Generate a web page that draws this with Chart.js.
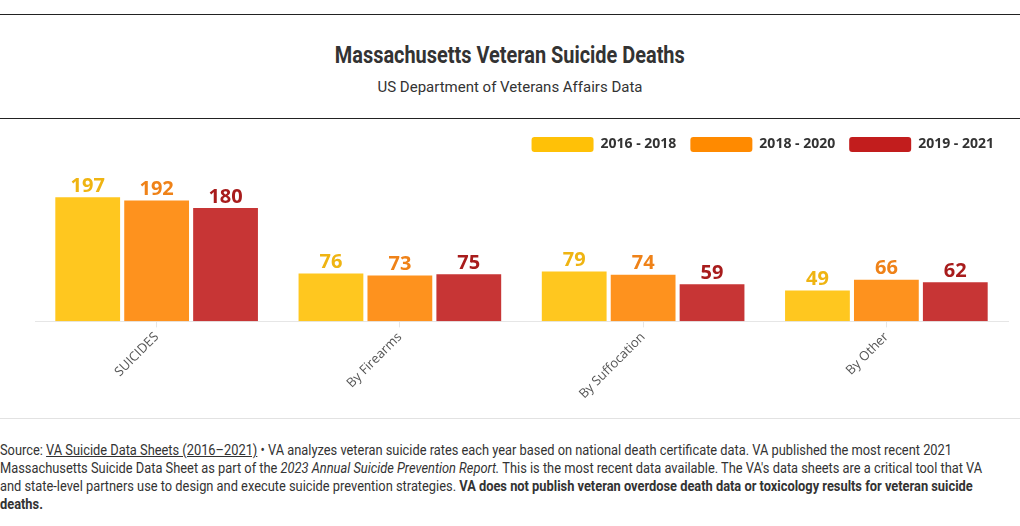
<!DOCTYPE html>
<html>
<head>
<meta charset="utf-8">
<script src="https://cdn.jsdelivr.net/npm/chart.js@4/dist/chart.umd.min.js"></script>
<style>
  body { margin: 0; background: #fff; width: 1020px; height: 526px; overflow: hidden; font-family: Roboto, sans-serif; }
  .rule { position: absolute; left: 0; width: 1020px; height: 1px; background: #222; }
  #title { position: absolute; top: 41px; left: 0; width: 1020px; text-align: center; }
  #title span { display: inline-block; font-size: 24px; font-weight: bold; color: #333; transform: scaleX(0.83); white-space: nowrap; }
  #subtitle { position: absolute; top: 78px; left: 0; width: 1020px; text-align: center; font-size: 15px; color: #333; }
  #wrap { position: absolute; top: 123px; left: 0; width: 1020px; height: 281px; }
  #sep { position: absolute; top: 418px; left: 0; width: 1020px; height: 1px; background: #e2e2e2; }
  #footer { position: absolute; top: 442px; left: 0; width: 1020px; font-size: 14.5px; line-height: 18px; color: #333; }
  #footer div { white-space: nowrap; transform-origin: 0 0; }
  #footer a { color: #333; }
</style>
</head>
<body>
<div class="rule" style="top:14px"></div>
<div id="title"><span>Massachusetts Veteran Suicide Deaths</span></div>
<div id="subtitle">US Department of Veterans Affairs Data</div>
<div class="rule" style="top:118px"></div>
<div id="wrap"><canvas id="chart"></canvas></div>
<div id="sep"></div>
<div id="footer">
<div><span>Source: <a href="#">VA Suicide Data Sheets (2016–2021)</a> • VA analyzes veteran suicide rates each year based on national death certificate data. VA published the most recent 2021</span></div>
<div><span>Massachusetts Suicide Data Sheet as part of the <i>2023 Annual Suicide Prevention Report.</i> This is the most recent data available. The VA's data sheets are a critical tool that VA</span></div>
<div><span>and state-level partners use to design and execute suicide prevention strategies. <b>VA does not publish veteran overdose death data or toxicology results for veteran suicide</b></span></div>
<div><span><b>deaths.</b></span></div>
</div>
<script>
const categories = ['SUICIDES', 'By Firearms', 'By Suffocation', 'By Other'];
const seriesNames = ['2016 - 2018', '2018 - 2020', '2019 - 2021'];
const values2016 = [197, 76, 79, 49];
const values2018 = [192, 73, 74, 66];
const values2019 = [180, 75, 59, 62];

const barColors = ['#ffc71f', '#fe921e', '#c73535'];
const legendColors = ['#ffc107', '#ff8a00', '#c21d1d'];
const labelColors = ['#efb412', '#ef8218', '#a81c1c'];

// squeeze the footer lines so the first one is as wide as in the original
const footLines = document.querySelectorAll('#footer div');
const firstWidth = footLines[0].querySelector('span').getBoundingClientRect().width;
const squeeze = 952 / firstWidth;
footLines.forEach(function (d) { d.style.transform = 'scaleX(' + squeeze + ')'; });

// draw the value above every bar
const valueLabels = {
    id: 'valueLabels',
    afterDatasetsDraw(chart) {
        const ctx = chart.ctx;
        ctx.save();
        ctx.font = 'bold 20px "Open Sans", "Noto Sans", sans-serif';
        ctx.textAlign = 'center';
        ctx.textBaseline = 'bottom';
        chart.data.datasets.forEach(function (ds, i) {
            chart.getDatasetMeta(i).data.forEach(function (bar, j) {
                ctx.fillStyle = labelColors[i];
                ctx.fillText(ds.data[j], bar.x, bar.y - 1);
            });
        });
        ctx.restore();
    }
};

const ctx = document.getElementById('chart').getContext('2d');
const chart = new Chart(ctx, {
    type: 'bar',
    data: {
        labels: categories,
        datasets: [values2016, values2018, values2019].map(function (vals, i) {
            return {
                label: seriesNames[i],
                data: vals,
                backgroundColor: barColors[i],
                borderWidth: 0,
                categoryPercentage: 0.85,
                barPercentage: 0.94
            };
        })
    },
    options: {
        responsive: true,
        maintainAspectRatio: false,
        animation: false,
        layout: { padding: { left: 35, right: 12, top: 0, bottom: 0 } },
        plugins: {
            legend: {
                position: 'top',
                align: 'end',
                labels: {
                    boxWidth: 62,
                    boxHeight: 15,
                    padding: 14,
                    useBorderRadius: true,
                    borderRadius: 3,
                    color: '#333',
                    font: { family: '"Open Sans", "Noto Sans", sans-serif', size: 14, weight: 'bold' },
                    generateLabels: function (c) {
                        return c.data.datasets.map(function (ds, i) {
                            return {
                                text: ds.label,
                                fillStyle: legendColors[i],
                                strokeStyle: legendColors[i],
                                lineWidth: 0,
                                borderRadius: 3,
                                fontColor: '#333',
                                datasetIndex: i
                            };
                        });
                    }
                }
            },
            tooltip: { enabled: false }
        },
        scales: {
            x: {
                grid: { offset: false, drawOnChartArea: false, color: '#e6e6e6', tickLength: 6 },
                border: { color: '#e6e6e6' },
                ticks: {
                    color: '#555',
                    minRotation: 45,
                    maxRotation: 45,
                    padding: 2,
                    font: { family: '"Open Sans", "Noto Sans", sans-serif', size: 13 }
                }
            },
            y: {
                display: false,
                min: 0,
                max: 253
            }
        }
    },
    plugins: [valueLabels]
});
</script>
</body>
</html>
